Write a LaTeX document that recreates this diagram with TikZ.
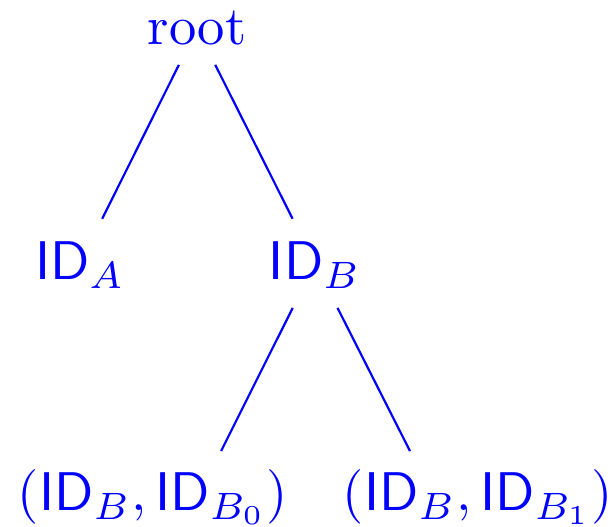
\documentclass[tikz,border=0pt]{standalone}
\usepackage{amsmath,amsfonts,amssymb}
\usepackage{tikz}
\usepackage{xcolor}

\begin{document}
\begin{tikzpicture}[
        x=0.1835pt, y=-0.1835pt, blue,
        every node/.style={anchor=base, text=blue, font=\normalsize},
        idnode/.style={text height=7.7pt, text depth=1.6pt}
      ]
        \useasboundingbox (0,0) rectangle (616,527);
        \node (root) at (197,45) {root};
        \node[idnode] (idA) at (80,280) {$\mathsf{ID}_A$};
        \node[idnode] (idB) at (315,280) {$\mathsf{ID}_B$};
        \node (b0) at (153,511) {$(\mathsf{ID}_B,\mathsf{ID}_{B_0})$};
        \node (b1) at (478,511) {$(\mathsf{ID}_B,\mathsf{ID}_{B_1})$};
        \draw (root) -- (idA);
        \draw (root) -- (idB);
        \draw (idB) -- ([xshift=12.5pt,yshift=11pt]b0.base);
        \draw (idB) -- ([xshift=-12.48pt,yshift=11pt]b1.base);
      \end{tikzpicture}
\end{document}
